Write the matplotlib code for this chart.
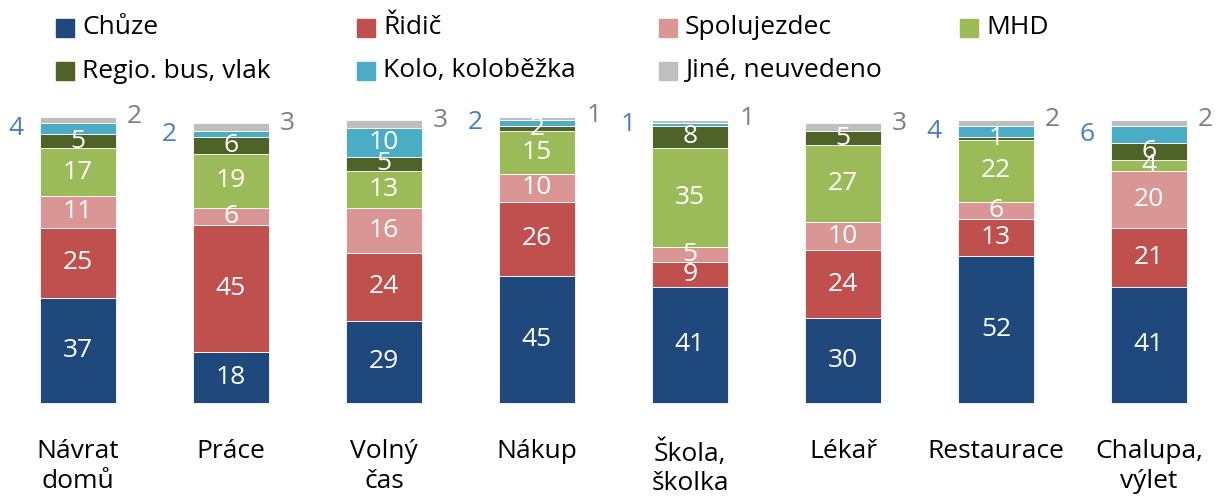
import numpy as np
import matplotlib.pyplot as plt
from matplotlib.patches import Rectangle

plt.rcParams['font.family'] = ['Open Sans', 'DejaVu Sans']

# categories and shares (%)
categories = ['Návrat\ndomů', 'Práce', 'Volný\nčas', 'Nákup', 'Škola,\nškolka',
              'Lékař', 'Restaurace', 'Chalupa,\nvýlet']
chuze = [37, 18, 29, 45, 41, 30, 52, 41]
ridic = [25, 45, 24, 26, 9, 24, 13, 21]
spolujezdec = [11, 6, 16, 10, 5, 10, 6, 20]
mhd = [17, 19, 13, 15, 35, 27, 22, 4]
regio = [5, 6, 5, 2, 8, 5, 1, 6]
kolo = [4, 2, 10, 2, 1, 0, 4, 6]
jine = [2, 3, 3, 1, 1, 3, 2, 2]

series_names = ['Chůze', 'Řidič', 'Spolujezdec', 'MHD', 'Regio. bus, vlak',
                'Kolo, koloběžka', 'Jiné, neuvedeno']
series = [chuze, ridic, spolujezdec, mhd, regio, kolo, jine]
colors = ['#1F497D', '#C0504D', '#DA9694', '#9BBB59', '#4F6228', '#4BACC6', '#BFBFBF']

fig = plt.figure(figsize=(12.18, 4.99), dpi=100)
ax = fig.add_axes([0, 96 / 499, 1, 283 / 499])

x = np.arange(len(categories))
w = 0.503
fs = 19
bottom = np.zeros(len(categories))
for k, (vals, col) in enumerate(zip(series, colors)):
    vals = np.array(vals, dtype=float)
    ax.bar(x, vals, w, bottom=bottom, color=col, edgecolor='white',
           linewidth=0.6, clip_on=False)
    mids = bottom + vals / 2
    for i in range(len(x)):
        v = vals[i]
        if v <= 0:
            continue
        if k <= 4 or (k == 5 and v >= 10):
            ax.text(x[i], mids[i], f'{int(v)}', ha='center', va='center',
                    color='white', fontsize=fs)
        elif k == 5:
            ax.text(x[i] - w / 2 - 0.105, mids[i], f'{int(v)}', ha='right',
                    va='center', color='#4A7EBB', fontsize=fs)
        else:
            ax.text(x[i] + w / 2 + 0.07, mids[i] + 1.2, f'{int(v)}', ha='left',
                    va='center', color='#7F7F7F', fontsize=fs)
    bottom += vals

ax.set_xlim(-78 / 153, -78 / 153 + 1218 / 153)
ax.set_ylim(0, 100)
ax.set_xticks(x)
ax.set_xticklabels(categories, fontsize=fs, linespacing=1.25, va='top')
ax.tick_params(axis='x', length=0, pad=26)
ax.set_yticks([])
for s in ax.spines.values():
    s.set_visible(False)

# legend laid out as in the original (4 columns, 2 rows)
col_x = [56, 357, 659, 960]
row_y = [28, 71]
for k, (name, col) in enumerate(zip(series_names, colors)):
    px = col_x[k % 4]
    py = row_y[k // 4]
    fig.patches.append(Rectangle((px / 1218, (499 - py - 9) / 499), 18 / 1218, 18 / 499,
                                 transform=fig.transFigure, color=col))
    fig.text((px + 26) / 1218, (499 - py) / 499, name, ha='left', va='center',
             fontsize=fs, color='black')

fig.savefig('out.png', dpi=100)
